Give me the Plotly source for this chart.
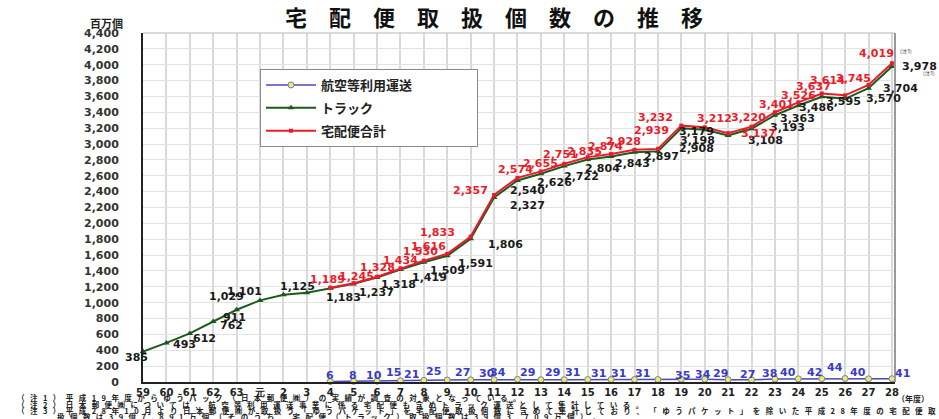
import plotly.graph_objects as go

# ---------------- data ----------------
years = ["59", "60", "61", "62", "63", "元"] + [str(i) for i in range(2, 29)]

truck = [385, 493, 612, 762, 911, 1029, 1101, 1125, 1183, 1237, 1318, 1419, 1509,
         1591, 1806, 2327, 2540, 2626, 2722, 2804, 2843, 2897, 2908, 3198, 3179,
         3108, 3193, 3363, 3486, 3595, 3570, 3704, 3978]

air_years = years[8:]
air = [6, 8, 10, 15, 21, 25, 27, 30, 34, 29, 29, 31, 31, 31, 31, 35, 34, 29, 27,
       38, 40, 42, 44, 40, 41]

total_years = years[8:]
total = [1189, 1245, 1328, 1434, 1530, 1616, 1833, 2357, 2574, 2655, 2751, 2835,
         2874, 2928, 2939, 3232, 3212, 3137, 3220, 3401, 3526, 3637, 3614, 3745, 4019]

series_names = ["航空等利用運送", "トラック", "宅配便合計"]
title_text = "宅配便取扱個数の推移"
y_unit = "百万個"
x_unit = "（年度）"
notes = [
    "（注1）平成19年度からゆうパック（日本郵便㈱）の実績が調査の対象となっている。",
    "（注2）日本郵便㈱については、航空等利用運送事業に係る宅配便も含めトラック運送として集計している。",
    "（注3）平成28年10月より日本郵便㈱が取扱う「ゆうパケット」を宅配便取扱個数に含めて集計しており、「ゆうパケット」を除いた平成28年度の宅配便取",
    "扱個数は39億7,891万個（そのうち、宅配便（トラック）取扱個数は39億3,709万個）。",
]

# ---------------- label offsets (px) ----------------
truck_off = [(-7, -6), (18, -2), (15, -5), (18, -4), (-2, -8), (-34, 4), (-39, 3),
             (-9, 6), (13, -9), (23, -9), (21, -7), (29, -8), (24, -8), (28, -8),
             (35, -6), (33, -8), (10, -10), (14, -9), (17, -10), (15, -9), (21, -7),
             (27, -4), (39, 3), (16, -12), (-8, -2), (37, -5), (36, 1), (23, -3),
             (18, -2), (22, -5), (38, 0), (32, 0), (28, 0)]
total_off = [(-3, 8), (3, 7), (0, 9), (0, 8), (-3, 9), (-19, 7), (-33, 4), (-24, 5),
             (-2, 8), (0, 8), (-4, 9), (-3, 6), (-6, 8), (-11, 8), (-6, 18), (-26, 8),
             (10, 9), (30, 0), (-3, 9), (2, 8), (0, 7), (-8, 7), (-18, 15), (-15, 6),
             (-15, 10)]
air_off = [(0, 6), (-1, 6), (-3, 6), (-7, 8), (-12, 6), (-14, 9), (-8, 7), (-7, 6),
           (-19, 7), (-13, 7), (-12, 7), (-15, 7), (-13, 6), (-16, 6), (-15, 6),
           (1, 4), (-2, 5), (-8, 6), (-4, 5), (-5, 5), (-10, 6), (-7, 6), (-10, 11),
           (-11, 6), (11, 5)]

RED = "#ea1c2a"
GREEN = "#1a5a1e"
BLUE = "#3a3ac8"
LBL_FONT = "DejaVu Sans"
JP_FONT = "Noto Sans CJK JP"
NB = "\u00a0"
SPREAD = "\u2002\u00a0"   # spacing between note characters (the source text is stretched wide)

fig = go.Figure()
fig.add_trace(go.Scatter(
    x=air_years, y=air, name=series_names[0] + NB * 20, mode="lines+markers",
    line=dict(color="#4848b8", width=1.5),
    marker=dict(symbol="circle", size=6, color="#e9ec6a",
                line=dict(color="#7a7aa8", width=1)),
    cliponaxis=False, legendgroup="a"))
fig.add_trace(go.Scatter(
    x=years, y=truck, name=series_names[1], mode="lines+markers",
    line=dict(color=GREEN, width=2),
    marker=dict(symbol="triangle-up", size=6, color=GREEN),
    cliponaxis=False, legendgroup="b"))
fig.add_trace(go.Scatter(
    x=total_years, y=total, name=series_names[2], mode="lines+markers",
    line=dict(color=RED, width=2),
    marker=dict(symbol="square", size=4, color=RED),
    cliponaxis=False, legendgroup="c"))


def idx(cat):
    # category position on the category axis
    return years.index(cat)


ann = []
for xv, v, (dx, dy) in zip(years, truck, truck_off):
    ann.append(dict(x=idx(xv), y=v, xref="x", yref="y", text=f"{v:,}", showarrow=False,
                    xshift=dx, yshift=dy,
                    font=dict(family=LBL_FONT, size=11, color="#1a1a1a", weight="bold")))
for xv, v, (dx, dy) in zip(total_years, total, total_off):
    ann.append(dict(x=idx(xv), y=v, xref="x", yref="y", text=f"{v:,}", showarrow=False,
                    xshift=dx, yshift=dy,
                    font=dict(family=LBL_FONT, size=11, color=RED, weight="bold")))
for xv, v, (dx, dy) in zip(air_years, air, air_off):
    ann.append(dict(x=idx(xv), y=v, xref="x", yref="y", text=f"{v:,}", showarrow=False,
                    xshift=dx, yshift=dy,
                    font=dict(family=LBL_FONT, size=11, color=BLUE, weight="bold")))

# (注3) marks
ann.append(dict(x=idx(years[-1]), y=total[-1], xref="x", yref="y", text="（注3）",
                showarrow=False, xshift=14, yshift=12,
                font=dict(family=JP_FONT, size=5, color="#333")))
ann.append(dict(x=idx(years[-1]), y=truck[-1], xref="x", yref="y", text="（注3）",
                showarrow=False, xshift=37, yshift=-7,
                font=dict(family=JP_FONT, size=5, color="#333")))

W, H = 939, 419
L, R, T, B = 143, 44, 33, 37
PW, PH = W - L - R, H - T - B


def px(xp):
    return (xp - L) / PW


def py(yp):
    return (H - B - yp) / PH


ann.append(dict(x=px(494), y=py(16), xref="paper", yref="paper",
                text="\u3000".join(list(title_text)), showarrow=False,
                xanchor="center", yanchor="middle",
                font=dict(family=JP_FONT, size=22, color="#111", weight="bold")))
ann.append(dict(x=px(106), y=py(23), xref="paper", yref="paper", text=y_unit,
                showarrow=False, xanchor="center", yanchor="middle",
                font=dict(family=JP_FONT, size=11, color="#222", weight="bold")))
ann.append(dict(x=px(913), y=py(399), xref="paper", yref="paper", text=x_unit,
                showarrow=False, xanchor="center", yanchor="middle",
                font=dict(family=JP_FONT, size=8, color="#222", weight="bold")))
for i, (line, yy) in enumerate(zip(notes, [398, 404, 410, 416])):
    ann.append(dict(x=px(15 if i < 3 else 55), y=py(yy), xref="paper", yref="paper",
                    text=SPREAD.join(list(line)), showarrow=False,
                    xanchor="left", yanchor="middle",
                    font=dict(family=JP_FONT, size=7.5, color="#222", weight="bold")))

fig.update_layout(
    width=W, height=H,
    margin=dict(l=L, r=R, t=T, b=B, pad=0),
    paper_bgcolor="white", plot_bgcolor="white",
    showlegend=True,
    legend=dict(x=px(260), y=py(69), xanchor="left", yanchor="top",
                bgcolor="white", bordercolor="#8a8a8a", borderwidth=1,
                font=dict(family=JP_FONT, size=13, color="#222", weight="bold"),
                tracegroupgap=3, itemwidth=50),
    annotations=ann,
    xaxis=dict(type="category", categoryorder="array", categoryarray=years,
               range=[0, 32.13], showline=True, linecolor="#222",
               linewidth=2, showgrid=True, gridcolor="#d9d9d9", gridwidth=2,
               ticks="", tickfont=dict(family=LBL_FONT, size=10, color="#222", weight="bold"),
               zeroline=False, fixedrange=True),
    yaxis=dict(range=[0, 4400], dtick=200, tickformat=",d", showline=True,
               linecolor="#222", linewidth=2, showgrid=True, gridcolor="#e2e2e2",
               gridwidth=1, ticks="", ticklabelstandoff=20, zeroline=False,
               tickfont=dict(family=LBL_FONT, size=11, color="#333", weight="bold")),
    shapes=[
        dict(type="line", xref="paper", yref="paper", x0=0, x1=1, y0=1, y1=1,
             line=dict(color="#b5b5b5", width=1)),
        dict(type="line", xref="paper", yref="paper", x0=1, x1=1, y0=0, y1=1,
             line=dict(color="#9a9a9a", width=2)),
    ],
)

fig.write_html("out.html")
